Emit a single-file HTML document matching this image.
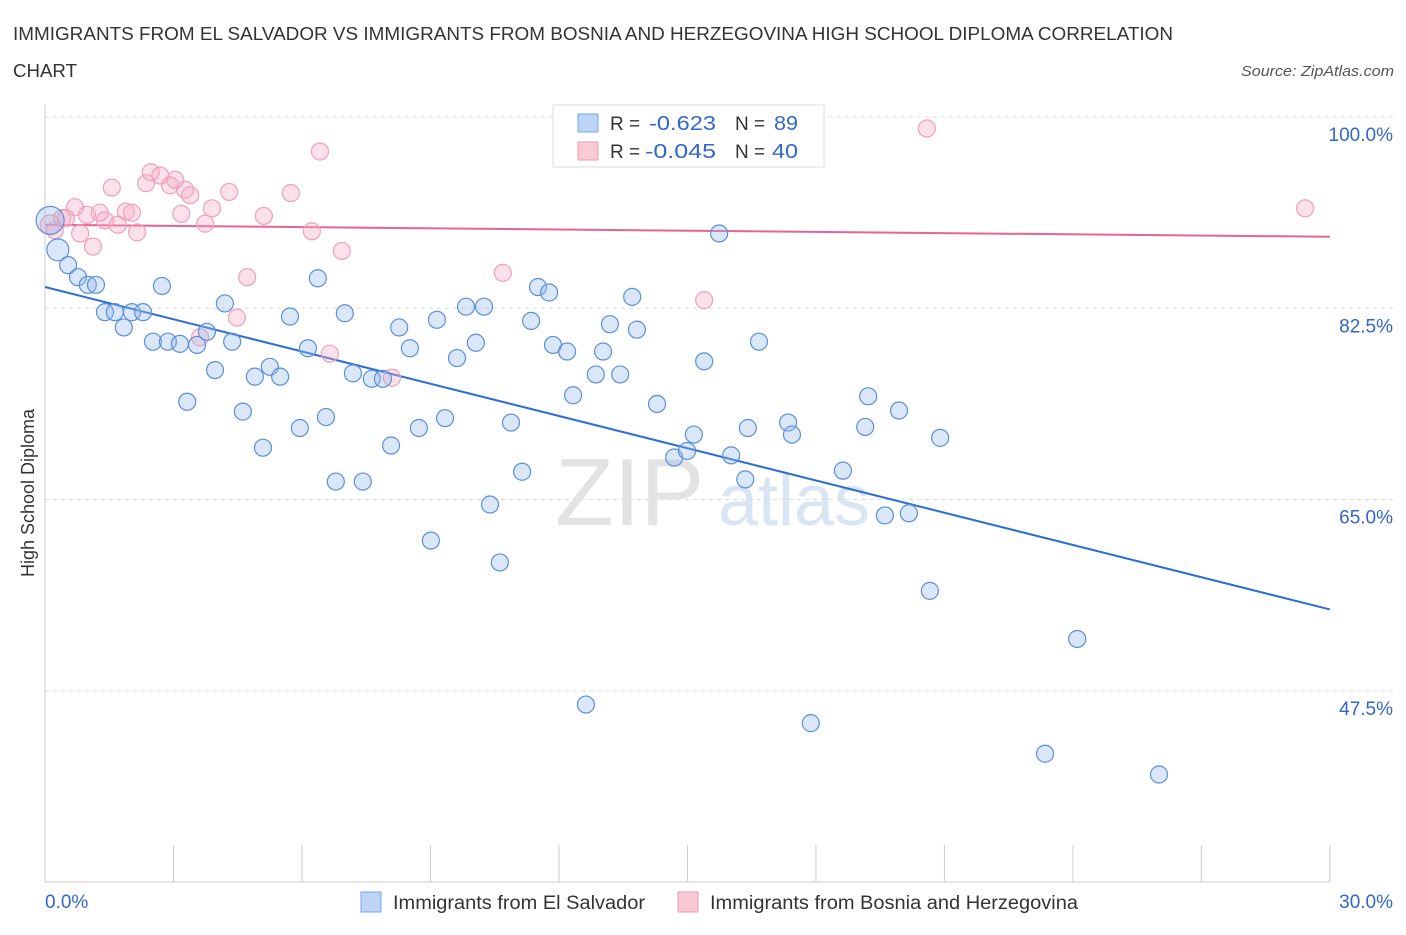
<!DOCTYPE html>
<html><head><meta charset="utf-8">
<style>
body{margin:0;background:#fff;font-family:"Liberation Sans",sans-serif;}
svg text{font-family:"Liberation Sans",sans-serif;}
</style></head>
<body>
<svg id="chart" width="1406" height="930" xmlns="http://www.w3.org/2000/svg">
<text x="13" y="40" font-size="18.5" fill="#333" textLength="1160" lengthAdjust="spacingAndGlyphs">IMMIGRANTS FROM EL SALVADOR VS IMMIGRANTS FROM BOSNIA AND HERZEGOVINA HIGH SCHOOL DIPLOMA CORRELATION</text>
<text x="13" y="77" font-size="18.5" fill="#333" textLength="64" lengthAdjust="spacingAndGlyphs">CHART</text>
<text x="1241" y="76" font-size="15" fill="#555" font-style="italic" textLength="153" lengthAdjust="spacingAndGlyphs">Source: ZipAtlas.com</text>
<text x="555" y="525" font-size="96" fill="#ddd" font-family="Liberation Serif" opacity="0.8">ZIP</text>
<text x="718" y="525" font-size="72" fill="#c9daf0" opacity="0.7">atlas</text>
<g id="grid"></g><g id="axes"></g><g id="lines"></g><g id="pts"></g>
<text transform="translate(34,493) rotate(-90)" font-size="18" fill="#333" text-anchor="middle">High School Diploma</text>
<g>
<rect x="553" y="105" width="271" height="62" fill="#fff" stroke="#ddd"/>
<rect x="578" y="114" width="20" height="18" fill="#bcd4f6" stroke="#7aa6e6"/>
<rect x="578" y="142" width="20" height="18" fill="#f9c9d6" stroke="#ee9ab0"/>
<text x="610" y="130" font-size="19" fill="#333">R =</text>
<text x="649" y="130" font-size="20" fill="#3366cc" textLength="67" lengthAdjust="spacingAndGlyphs">-0.623</text>
<text x="735" y="130" font-size="19" fill="#333">N =</text>
<text x="774" y="130" font-size="20" fill="#3366cc" textLength="24" lengthAdjust="spacingAndGlyphs">89</text>
<text x="610" y="158" font-size="19" fill="#333">R =</text>
<text x="645" y="158" font-size="20" fill="#3366cc" textLength="71" lengthAdjust="spacingAndGlyphs">-0.045</text>
<text x="735" y="158" font-size="19" fill="#333">N =</text>
<text x="772" y="158" font-size="20" fill="#3366cc" textLength="26" lengthAdjust="spacingAndGlyphs">40</text>
</g>
<g>
<rect x="361" y="892" width="20" height="20" fill="#bcd4f6" stroke="#7aa6e6"/>
<text x="393" y="909" font-size="19" fill="#333" textLength="252" lengthAdjust="spacingAndGlyphs">Immigrants from El Salvador</text>
<rect x="678" y="892" width="20" height="20" fill="#f9c9d6" stroke="#ee9ab0"/>
<text x="710" y="909" font-size="19" fill="#333" textLength="368" lengthAdjust="spacingAndGlyphs">Immigrants from Bosnia and Herzegovina</text>
</g>
</svg>
<script>
const blueX=[0.12,0.30,0.54,0.77,1.00,1.19,1.40,1.63,1.84,2.03,2.29,2.52,2.73,2.87,3.15,3.32,3.55,3.78,3.97,4.20,4.37,4.62,4.90,5.09,5.25,5.49,5.72,5.95,6.14,6.37,6.56,6.79,7.00,7.19,7.42,7.63,7.89,8.08,8.27,8.52,8.73,9.01,9.15,9.34,9.62,9.83,10.06,10.25,10.39,10.62,10.88,11.14,11.35,11.51,11.77,11.86,12.19,12.33,12.63,12.86,13.03,13.19,13.43,13.71,13.82,14.29,14.69,14.99,15.15,15.39,15.74,16.02,16.35,16.41,16.67,17.35,17.44,17.88,18.63,19.22,19.15,19.61,19.94,20.17,20.66,20.90,23.35,24.10,26.01];
const blueY=[92.1,89.4,88.0,86.9,86.2,86.2,83.7,83.7,82.3,83.7,83.7,81.0,86.1,81.0,80.8,75.5,80.7,81.9,78.4,84.5,81.0,74.6,77.8,71.3,78.7,77.8,83.3,73.1,80.4,86.8,74.1,68.2,83.6,78.1,68.2,77.6,77.6,71.5,82.3,80.4,73.1,62.8,83.0,74.0,79.5,84.2,80.9,84.2,66.1,60.8,73.6,69.1,82.9,86.0,85.5,80.7,80.1,76.1,47.8,78.0,80.1,82.6,78.0,85.1,82.1,75.3,70.4,71.0,72.5,79.2,90.9,70.6,68.4,73.1,81.0,73.6,72.5,46.1,69.2,76.0,73.2,65.1,74.7,65.3,58.2,72.2,43.3,53.8,41.4];
const pinkX=[0.12,0.23,0.40,0.49,0.70,0.82,0.98,1.12,1.28,1.40,1.56,1.70,1.89,2.03,2.15,2.36,2.47,2.69,2.92,3.04,3.18,3.27,3.39,3.62,3.74,3.90,4.30,4.48,4.72,5.11,5.74,6.23,6.42,6.65,6.93,8.10,10.69,15.39,20.59,29.42];
const pinkY=[91.7,91.2,92.3,92.3,93.3,90.9,92.6,89.7,92.8,92.1,95.1,91.7,92.9,92.8,91.0,95.5,96.5,96.2,95.3,95.8,92.7,94.9,94.4,81.4,91.8,93.2,94.7,83.2,86.9,92.5,94.6,91.1,98.4,79.9,89.3,77.7,87.3,84.8,100.5,93.2];
const blueTrend=[86.0,56.5];
const pinkTrend=[91.7,90.6];
const yTicks=[100,82.5,65,47.5];
const yTickLabels=["100.0%","82.5%","65.0%","47.5%"];
const xTicks=[0,3,6,9,12,15,18,21,24,27,30];
const NS="http://www.w3.org/2000/svg";
function X(v){return 45+v*42.83;}
function Y(v){return 134+(100-v)*10.93;}
function mk(tag,attrs,parent){const e=document.createElementNS(NS,tag);for(const k in attrs)e.setAttribute(k,attrs[k]);document.getElementById(parent).appendChild(e);return e;}
yTicks.forEach((t,i)=>{
 const g=mk('line',{x1:45,x2:1394,y1:Y(t)-17,y2:Y(t)-17,stroke:'#ddd','stroke-dasharray':'4,4'},'grid');
 
 
 const l=mk('text',{x:1393,y:Y(t)+7,'font-size':19,fill:'#3366cc','text-anchor':'end'},'grid');
 l.textContent=yTickLabels[i];
 
 
});
const ax=mk('line',{x1:45,x2:45,y1:105,y2:882,stroke:'#ccc'},'axes');


const bx=mk('line',{x1:45,x2:1330,y1:882,y2:882,stroke:'#ccc'},'axes');


xTicks.forEach(t=>{
 const k=mk('line',{x1:X(t),x2:X(t),y1:845,y2:882,stroke:'#ccc'},'axes');
 
 
});
const xl0=mk('text',{x:45,y:908,'font-size':19,fill:'#3366cc'},'axes');xl0.textContent="0.0%";


const xl1=mk('text',{x:1393,y:908,'font-size':19,fill:'#3366cc','text-anchor':'end'},'axes');xl1.textContent="30.0%";


pinkX.forEach((v,i)=>{
 const c=mk('circle',{cx:X(v),cy:Y(pinkY[i]),r:i==0?10:8.5,fill:'rgba(246,170,195,0.35)',stroke:'#f0a0b8','stroke-width':1.2},'pts');
 
 
});
blueX.forEach((v,i)=>{
 const c=mk('circle',{cx:X(v),cy:Y(blueY[i]),r:i==0?14:(i==1?11:8.5),fill:'rgba(150,185,235,0.35)',stroke:'#5b8fdb','stroke-width':1.2},'pts');
 
 
});
const bl=mk('line',{x1:X(0),x2:X(30),y1:Y(blueTrend[0]),y2:Y(blueTrend[1]),stroke:'#2b6fd6','stroke-width':2},'lines');


const pl=mk('line',{x1:X(0),x2:X(30),y1:Y(pinkTrend[0]),y2:Y(pinkTrend[1]),stroke:'#e8648e','stroke-width':2},'lines');


</script>
</body></html>
